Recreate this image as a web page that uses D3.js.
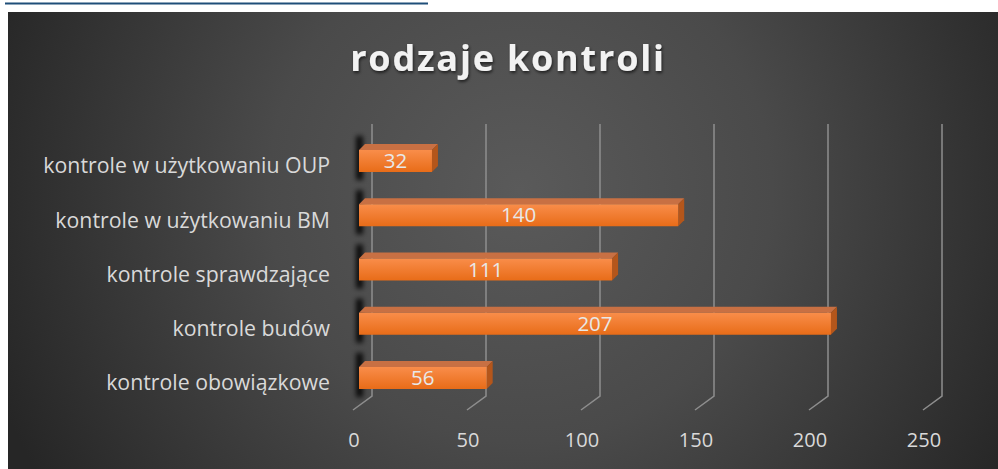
<!DOCTYPE html>
<html>
<head>
<meta charset="utf-8">
<script src="https://cdn.jsdelivr.net/npm/d3@7"></script>
<style>
  html, body { margin: 0; padding: 0; background: #fff; }
  svg { display: block; }
</style>
</head>
<body>
<div id="chart"></div>
<script>
// data
const categories = [
    'kontrole w użytkowaniu OUP',
    'kontrole w użytkowaniu BM',
    'kontrole sprawdzające',
    'kontrole budów',
    'kontrole obowiązkowe'
];
const values = [32, 140, 111, 207, 56];
const ticks = [0, 50, 100, 150, 200, 250];
const title = 'rodzaje kontroli';

function makeChart() {
    const width = 998,
        height = 469;

    // 3d look: back wall offset and bar depth
    const wallDx = 13, floorDx = -6, floorDy = 14,
        barH = 22, depthX = 6, depthY = 6;

    const svg = d3.select('#chart').append('svg')
        .attr('width', width)
        .attr('height', height);

    const defs = svg.append('defs');

    const bg = defs.append('radialGradient')
        .attr('id', 'bg')
        .attr('gradientUnits', 'userSpaceOnUse')
        .attr('cx', 520).attr('cy', 190).attr('r', 560);
    bg.append('stop').attr('offset', '0%').attr('stop-color', '#5a5a5a');
    bg.append('stop').attr('offset', '45%').attr('stop-color', '#4a4a4a');
    bg.append('stop').attr('offset', '100%').attr('stop-color', '#262626');

    const front = defs.append('linearGradient')
        .attr('id', 'front')
        .attr('x1', 0).attr('y1', 0).attr('x2', 0).attr('y2', 1);
    front.append('stop').attr('offset', '0%').attr('stop-color', '#f98d4a');
    front.append('stop').attr('offset', '100%').attr('stop-color', '#e86c18');

    const blur = defs.append('filter').attr('id', 'blur')
        .attr('x', '-100%').attr('y', '-50%').attr('width', '300%').attr('height', '200%');
    blur.append('feGaussianBlur').attr('stdDeviation', 2.4);

    const tshadow = defs.append('filter').attr('id', 'tshadow');
    tshadow.append('feDropShadow')
        .attr('dx', 1).attr('dy', 2).attr('stdDeviation', 1.5)
        .attr('flood-color', '#000').attr('flood-opacity', 0.6);

    // link underline from the page above the chart
    svg.append('line')
        .attr('x1', 5).attr('x2', 428)
        .attr('y1', 3.5).attr('y2', 3.5)
        .attr('stroke', '#1f4e79')
        .attr('stroke-width', 2);

    svg.append('rect')
        .attr('x', 8).attr('y', 12)
        .attr('width', width - 8).attr('height', height - 12)
        .attr('fill', 'url(#bg)');

    svg.append('text')
        .attr('x', 508).attr('y', 71)
        .attr('text-anchor', 'middle')
        .style('font-family', '"Open Sans", sans-serif')
        .style('font-weight', 'bold')
        .style('font-size', '36px')
        .style('letter-spacing', '1.8px')
        .attr('fill', '#f2f2f2')
        .attr('filter', 'url(#tshadow)')
        .text(title);

    const x = d3.scaleLinear()
        .domain([0, 250])
        .range([359, 359 + 250 * 2.28]);

    const y = d3.scalePoint()
        .domain(categories)
        .range([161, 378]);

    const wallTop = 124, wallBottom = 396;

    // back wall gridlines + floor lines
    const grid = svg.append('g')
        .attr('stroke', '#8e8e8e')
        .attr('stroke-width', 1.5)
        .attr('fill', 'none');
    grid.selectAll('path')
        .data(ticks)
        .enter().append('path')
        .attr('d', d => {
            const bx = x(d) + wallDx;
            return 'M' + bx + ',' + wallTop + 'L' + bx + ',' + wallBottom +
                'L' + (x(d) + floorDx) + ',' + (wallBottom + floorDy);
        });

    // tick labels
    svg.append('g').selectAll('text')
        .data(ticks)
        .enter().append('text')
        .attr('x', d => x(d) - 5)
        .attr('y', 447)
        .attr('text-anchor', 'middle')
        .style('font-family', '"Open Sans", sans-serif')
        .style('font-size', '20px')
        .attr('fill', '#d9d9d9')
        .text(d => d);

    // category labels
    svg.append('g').selectAll('text')
        .data(categories)
        .enter().append('text')
        .attr('x', 330)
        .attr('y', d => y(d) + 5)
        .attr('dy', '0.35em')
        .attr('text-anchor', 'end')
        .style('font-family', '"Open Sans", sans-serif')
        .style('font-size', '21.3px')
        .attr('fill', '#d9d9d9')
        .text(d => d);

    const data = categories.map((c, i) => ({ name: c, value: values[i] }));

    // bar shadows on the left wall
    svg.append('g').selectAll('rect')
        .data(data)
        .enter().append('rect')
        .attr('x', x(0) - 3)
        .attr('y', d => y(d.name) - barH / 2 - 14)
        .attr('width', 7)
        .attr('height', barH + 22)
        .attr('fill', '#000')
        .attr('opacity', 0.85)
        .attr('filter', 'url(#blur)');

    const bars = svg.append('g').selectAll('g')
        .data(data)
        .enter().append('g');

    // top face
    bars.append('path')
        .attr('fill', '#c87043')
        .attr('d', d => {
            const x0 = x(0), x1 = x(d.value), t = y(d.name) - barH / 2;
            return 'M' + x0 + ',' + t + 'L' + x1 + ',' + t +
                'L' + (x1 + depthX) + ',' + (t - depthY) +
                'L' + (x0 + depthX) + ',' + (t - depthY) + 'Z';
        });

    // side face
    bars.append('path')
        .attr('fill', '#b4561b')
        .attr('d', d => {
            const x1 = x(d.value), t = y(d.name) - barH / 2;
            return 'M' + x1 + ',' + t + 'L' + (x1 + depthX) + ',' + (t - depthY) +
                'L' + (x1 + depthX) + ',' + (t + barH - depthY) +
                'L' + x1 + ',' + (t + barH) + 'Z';
        });

    // front face
    bars.append('rect')
        .attr('x', x(0))
        .attr('y', d => y(d.name) - barH / 2)
        .attr('width', d => x(d.value) - x(0))
        .attr('height', barH)
        .attr('fill', 'url(#front)');

    // value labels
    bars.append('text')
        .attr('x', d => (x(0) + x(d.value)) / 2)
        .attr('y', d => y(d.name))
        .attr('dy', '0.35em')
        .attr('text-anchor', 'middle')
        .style('font-family', '"Open Sans", sans-serif')
        .style('font-size', '20.5px')
        .attr('fill', '#e8e8e8')
        .text(d => d.value);
}

makeChart();
</script>
</body>
</html>
